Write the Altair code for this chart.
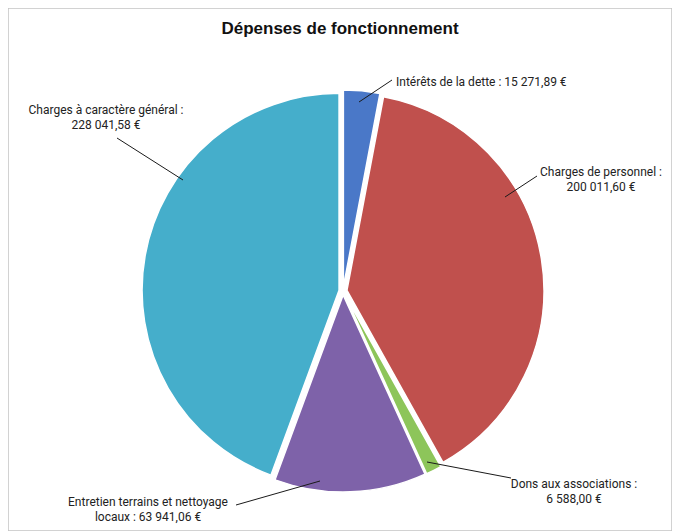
import altair as alt
import pandas as pd

# ---- data ----
categories = [
    "Intérêts de la dette",
    "Charges de personnel",
    "Dons aux associations",
    "Entretien terrains et nettoyage locaux",
    "Charges à caractère général",
]
values = [15271.89, 200011.60, 6588.00, 63941.06, 228041.58]
label_texts = [
    "Intérêts de la dette : 15 271,89 €",
    "Charges de personnel :\n200 011,60 €",
    "Dons aux associations :\n6 588,00 €",
    "Entretien terrains et nettoyage\nlocaux : 63 941,06 €",
    "Charges à caractère général :\n228 041,58 €",
]
colors = ["#4A78C8", "#C0504D", "#8DC55A", "#7E62A9", "#45AECB"]

# ---- layout (pixels inside the view) ----
W, H = 664, 523
CX, CY, R, EXPLODE = 335, 283, 197, 4
label_x = [388, 593, 566, 140, 98]
label_y = [78, 168, 480, 498, 106]
label_align = ["left", "center", "center", "center", "center"]
line_x1 = [351, 497, 419, 312, 175]
line_y1 = [94, 189, 454, 473, 172]
line_x2 = [384, 529, 503, 228, 109]
line_y2 = [72, 168, 470, 497, 130]

FONT = "Roboto, Liberation Sans, sans-serif"

df = pd.DataFrame({"cat": categories, "value": values, "order": list(range(len(values)))})

pie = (
    alt.Chart(df)
    .transform_joinaggregate(total="sum(value)")
    .transform_window(cum="sum(value)", sort=[alt.SortField("order")], frame=[None, 0])
    .transform_calculate(
        start="(datum.cum - datum.value) / datum.total * 2 * PI",
        end="datum.cum / datum.total * 2 * PI",
    )
    .transform_calculate(mid="(datum.start + datum.end) / 2")
    .transform_calculate(
        px=f"{CX} + {EXPLODE} * sin(datum.mid)",
        py=f"{CY} - {EXPLODE} * cos(datum.mid)",
    )
    .mark_arc(outerRadius=R, stroke="white", strokeWidth=1.5)
    .encode(
        theta=alt.Theta("start:Q", scale=None),
        theta2="end:Q",
        x=alt.X("px:Q", scale=None),
        y=alt.Y("py:Q", scale=None),
        color=alt.Color("cat:N", scale=alt.Scale(domain=categories, range=colors), legend=None),
    )
)

lab_df = pd.DataFrame({
    "text": label_texts,
    "lx": label_x, "ly": label_y, "align": label_align,
    "x1": line_x1, "y1": line_y1, "x2": line_x2, "y2": line_y2,
})

lines = alt.Chart(lab_df).mark_rule(color="#1a1a1a", strokeWidth=1).encode(
    x=alt.X("x1:Q", scale=None), y=alt.Y("y1:Q", scale=None),
    x2="x2:Q", y2="y2:Q",
)

texts_left = alt.Chart(lab_df).transform_filter("datum.align == 'left'").mark_text(
    align="left", baseline="alphabetic", font=FONT, fontSize=12, color="#222222", lineBreak="\n", lineHeight=15,
).encode(x=alt.X("lx:Q", scale=None), y=alt.Y("ly:Q", scale=None), text="text:N")

texts_center = alt.Chart(lab_df).transform_filter("datum.align == 'center'").mark_text(
    align="center", baseline="alphabetic", font=FONT, fontSize=12, color="#222222", lineBreak="\n", lineHeight=15,
).encode(x=alt.X("lx:Q", scale=None), y=alt.Y("ly:Q", scale=None), text="text:N")

title = alt.Chart(pd.DataFrame({"t": ["Dépenses de fonctionnement"]})).mark_text(
    align="center", baseline="middle", font="Liberation Sans, Arial, sans-serif",
    fontSize=17, fontWeight="bold", color="#111111",
).encode(x=alt.value(W / 2), y=alt.value(21), text="t:N")

chart = (
    alt.layer(pie, lines, texts_left, texts_center, title)
    .properties(width=W, height=H, padding=0, background="white")
    .configure_view(stroke="#c4c4c4", strokeWidth=1.5, fill="white")
)

chart.save("out.html", embed_options={"renderer": "svg", "actions": False})
